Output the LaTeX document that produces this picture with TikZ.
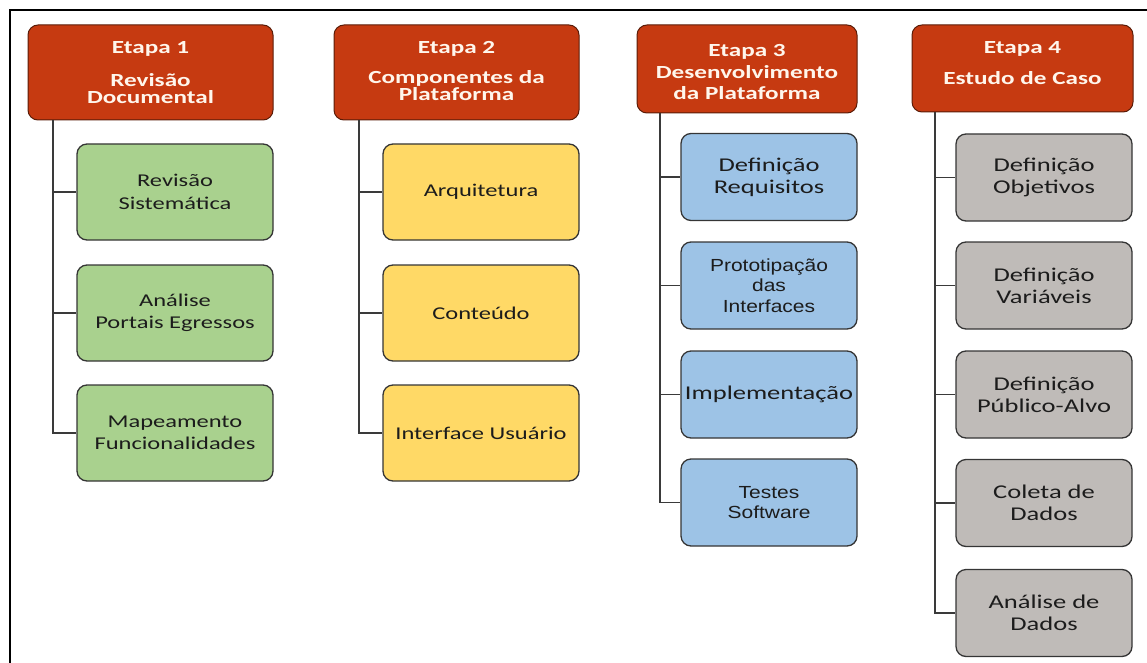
\documentclass[tikz,border=0pt]{standalone}
\usepackage{fontspec}
\newfontfamily\calf[FakeStretch=1.36]{Carlito}
\newfontfamily\arlf[FakeStretch=1.2]{Liberation Sans}
\definecolor{hdrred}{HTML}{C63A11}
\definecolor{hdrborder}{HTML}{5A1C08}
\definecolor{hdrtext}{HTML}{FFF6EC}
\definecolor{fgreen}{HTML}{A9D18E}
\definecolor{fyellow}{HTML}{FFD966}
\definecolor{fblue}{HTML}{9DC3E6}
\definecolor{fgrey}{HTML}{BFBBB8}
\definecolor{boxborder}{HTML}{353535}
\definecolor{boxtext}{HTML}{1C1C1C}
\definecolor{connc}{HTML}{3A3A3A}
\begin{document}
\begin{tikzpicture}[x=1pt,y=-1pt,
  hdr/.style={draw=hdrborder, line width=1pt, fill=hdrred, rounded corners=10pt},
  htext/.style={text=hdrtext, align=center, inner sep=0pt, anchor=north,
    font=\calf\bfseries\fontsize{18.5}{17.5}\selectfont},
  sub/.style={draw=boxborder, line width=1.3pt, rounded corners=10pt, align=center,
    text=boxtext, inner sep=0pt, font=\calf\fontsize{18}{22.5}\selectfont},
  subbig/.style={sub, font=\calf\fontsize{19.5}{22}\selectfont},
  subarial/.style={sub, font=\arlf\fontsize{17.5}{20.5}\selectfont},
  c12/.style={minimum width=196pt, minimum height=96pt},
  c34/.style={minimum width=176pt, minimum height=87pt},
  conn/.style={draw=connc, line width=1.4pt}]
\useasboundingbox (0,0) rectangle (1147,663);
% frame (cut off at right and bottom)
\draw[line width=1.8pt, line cap=rect] (10,663) -- (10,10) -- (1147,10);

% headers
\node[hdr, minimum width=245pt, minimum height=95pt] (h1) at (150.5,72.5) {};
\node[hdr, minimum width=245pt, minimum height=95pt] (h2) at (456.5,72.5) {};
\node[hdr, minimum width=220pt, minimum height=88pt] (h3) at (747,69) {};
\node[hdr, minimum width=221pt, minimum height=87pt] (h4) at (1022.5,68.5) {};

\node[htext] (h1t) at ([yshift=-17pt]h1.north) {Etapa 1\\[15pt]Revisão\\Documental};
\node[htext] (h2t) at ([yshift=-17pt]h2.north) {Etapa 2\\[12pt]Componentes da\\Plataforma};
\node[htext, font=\calf\bfseries\fontsize{18.5}{21.5}\selectfont] (h3t) at ([yshift=-20pt]h3.north) {Etapa 3\\Desenvolvimento\\da Plataforma};
\node[htext] (h4t) at ([yshift=-17pt]h4.north) {Etapa 4\\[13.5pt]Estudo de Caso};

% column 1
\node[sub, c12, fill=fgreen] (b11) at (175,192) {Revisão\\Sistemática};
\node[sub, c12, fill=fgreen] (b12) at (175,313) {Análise\\Portais Egressos};
\node[sub, c12, fill=fgreen] (b13) at (175,433) {Mapeamento\\Funcionalidades};

% column 2
\node[sub, c12, fill=fyellow] (b21) at (481,192) {Arquitetura};
\node[sub, c12, fill=fyellow] (b22) at (481,313) {Conteúdo};
\node[sub, c12, fill=fyellow] (b23) at (481,433) {Interface Usuário};

% column 3
\node[subbig, c34, fill=fblue] (b31) at (769,177) {Definição\\Requisitos};
\node[subarial, c34, fill=fblue] (b32) at (769,285.5) {Prototipação\\das\\Interfaces};
\node[subbig, c34, fill=fblue] (b33) at (769,394.5) {Implementação};
\node[subarial, c34, fill=fblue] (b34) at (769,502.5) {Testes\\Software};

% column 4
\node[subbig, c34, fill=fgrey] (b41) at (1044,177.5) {Definição\\Objetivos};
\node[subbig, c34, fill=fgrey] (b42) at (1044,285.5) {Definição\\Variáveis};
\node[subbig, c34, fill=fgrey] (b43) at (1044,394.5) {Definição\\Público-Alvo};
\node[subbig, c34, fill=fgrey] (b44) at (1044,503) {Coleta de\\Dados};
\node[subbig, c34, fill=fgrey] (b45) at (1044,613) {Análise de\\Dados};

% trunk positions
\coordinate (t1) at (53,0);
\coordinate (t2) at (359,0);
\coordinate (t3) at (660,0);
\coordinate (t4) at (935,0);

% connectors
\draw[conn] (h1.south -| t1) |- (b13.west);
\draw[conn] (b11.west -| t1) -- (b11.west);
\draw[conn] (b12.west -| t1) -- (b12.west);

\draw[conn] (h2.south -| t2) |- (b23.west);
\draw[conn] (b21.west -| t2) -- (b21.west);
\draw[conn] (b22.west -| t2) -- (b22.west);

\draw[conn] (h3.south -| t3) |- (b34.west);
\draw[conn] (b31.west -| t3) -- (b31.west);
\draw[conn] (b32.west -| t3) -- (b32.west);
\draw[conn] (b33.west -| t3) -- (b33.west);

\draw[conn] (h4.south -| t4) |- (b45.west);
\draw[conn] (b41.west -| t4) -- (b41.west);
\draw[conn] (b42.west -| t4) -- (b42.west);
\draw[conn] (b43.west -| t4) -- (b43.west);
\draw[conn] (b44.west -| t4) -- (b44.west);
\end{tikzpicture}
\end{document}
